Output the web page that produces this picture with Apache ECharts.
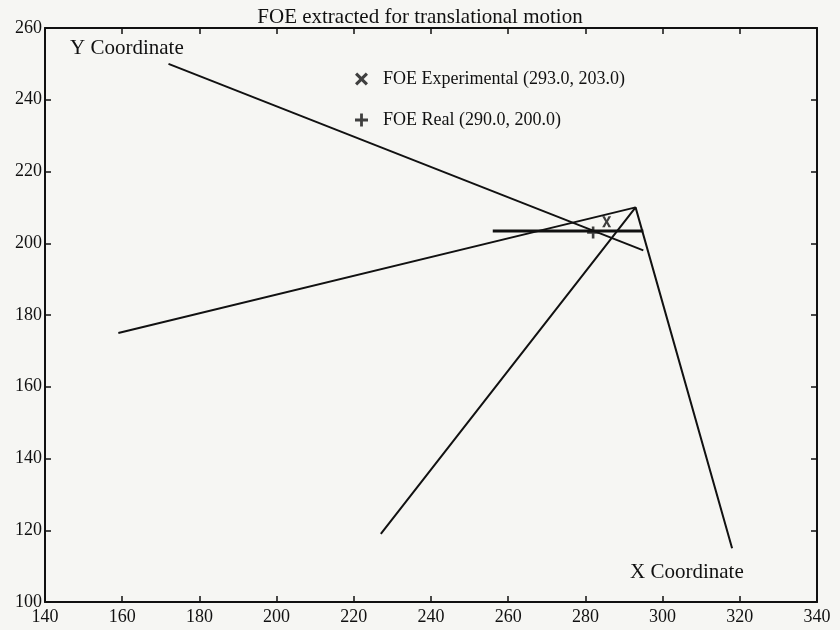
<!DOCTYPE html>
<html><head><meta charset="utf-8">
<script src="https://cdn.jsdelivr.net/npm/echarts@6/dist/echarts.min.js"></script>
<style>html,body{margin:0;padding:0;background:#f6f6f3;}#c{width:840px;height:630px;}</style>
</head><body><div id="c"></div>
<script>
const titleText = 'FOE extracted for translational motion';
const xTicks = [140,160,180,200,220,240,260,280,300,320,340];
const yTicks = [100,120,140,160,180,200,220,240,260];
const yCoordLine = [[172,250],[295,198]];
const lineA = [[159,175],[293,210]];
const lineB = [[227,119],[293,210],[318,115]];
const estLine = [[256,203.4],[295,203.4]];
const foeExperimental = [[285.5,206]];
const foeReal = [[282,203]];
const legendNames = ['FOE Experimental (293.0, 203.0)','FOE Real (290.0, 200.0)'];
const annotations = ['Y Coordinate','X Coordinate'];

const FONT = '"Liberation Serif", "DejaVu Serif", serif';
const plusPath = 'path://M-1.3,-6 L1.3,-6 L1.3,-1.3 L6,-1.3 L6,1.3 L1.3,1.3 L1.3,6 L-1.3,6 L-1.3,1.3 L-6,1.3 L-6,-1.3 L-1.3,-1.3 Z';
const crossPath = 'path://M-5,-6 L-2,-6 L0,-2 L2,-6 L5,-6 L1.5,0 L5,6 L2,6 L0,2 L-2,6 L-5,6 L-1.5,0 Z';
const boldCross = 'path://M-6,-4 L-4,-6 L0,-2 L4,-6 L6,-4 L2,0 L6,4 L4,6 L0,2 L-4,6 L-6,4 L-2,0 Z';

const chart = echarts.init(document.getElementById('c'));
function seg(data, w){
  return {type:'line', data:data, symbol:'none', silent:true,
    lineStyle:{color:'#111', width:w||2}, xAxisIndex:0, yAxisIndex:0, z:2};
}
const axisCommon = {
  axisLine:{show:true, lineStyle:{color:'#111', width:2}},
  axisTick:{show:true, inside:true, length:6, lineStyle:{color:'#111', width:1.5}},
  splitLine:{show:false}
};
chart.setOption({
  backgroundColor:'#f6f6f3',
  animation:false,
  title:{text:titleText, left:'center', top:2,
    textStyle:{fontFamily:FONT, fontSize:21, fontWeight:'normal', color:'#111'}},
  grid:{left:45, right:23, top:28, bottom:28, containLabel:false},
  legend:{
    data:[{name:legendNames[0], icon:boldCross},{name:legendNames[1], icon:plusPath}],
    orient:'vertical', left:350, top:65, itemGap:23, itemWidth:13, itemHeight:13,
    textStyle:{fontFamily:FONT, fontSize:18, color:'#111', padding:[0,0,0,10]}
  },
  xAxis:[
    Object.assign({type:'value', min:xTicks[0], max:xTicks[xTicks.length-1], interval:20,
      axisLabel:{fontFamily:FONT, fontSize:18, color:'#111', margin:6}}, axisCommon),
    Object.assign({type:'value', position:'top', min:xTicks[0], max:xTicks[xTicks.length-1], interval:20,
      axisLabel:{show:false}}, axisCommon)
  ],
  yAxis:[
    Object.assign({type:'value', min:yTicks[0], max:yTicks[yTicks.length-1], interval:20,
      axisLabel:{fontFamily:FONT, fontSize:18, color:'#111', margin:3}}, axisCommon),
    Object.assign({type:'value', position:'right', min:yTicks[0], max:yTicks[yTicks.length-1], interval:20,
      axisLabel:{show:false}}, axisCommon)
  ],
  series:[
    seg(yCoordLine), seg(lineA), seg(lineB), seg(estLine, 3),
    {name:legendNames[0], type:'scatter', data:foeExperimental, symbol:crossPath, symbolSize:[9,11],
      itemStyle:{color:'#111'}, z:5},
    {name:legendNames[1], type:'scatter', data:foeReal, symbol:plusPath, symbolSize:12,
      itemStyle:{color:'#111'}, z:5}
  ],
  graphic:[
    {type:'text', left:70, top:38, style:{text:annotations[0], font:'21px '+FONT, fill:'#111'}},
    {type:'text', left:630, top:562, style:{text:annotations[1], font:'21px '+FONT, fill:'#111'}}
  ]
});
</script></body></html>
